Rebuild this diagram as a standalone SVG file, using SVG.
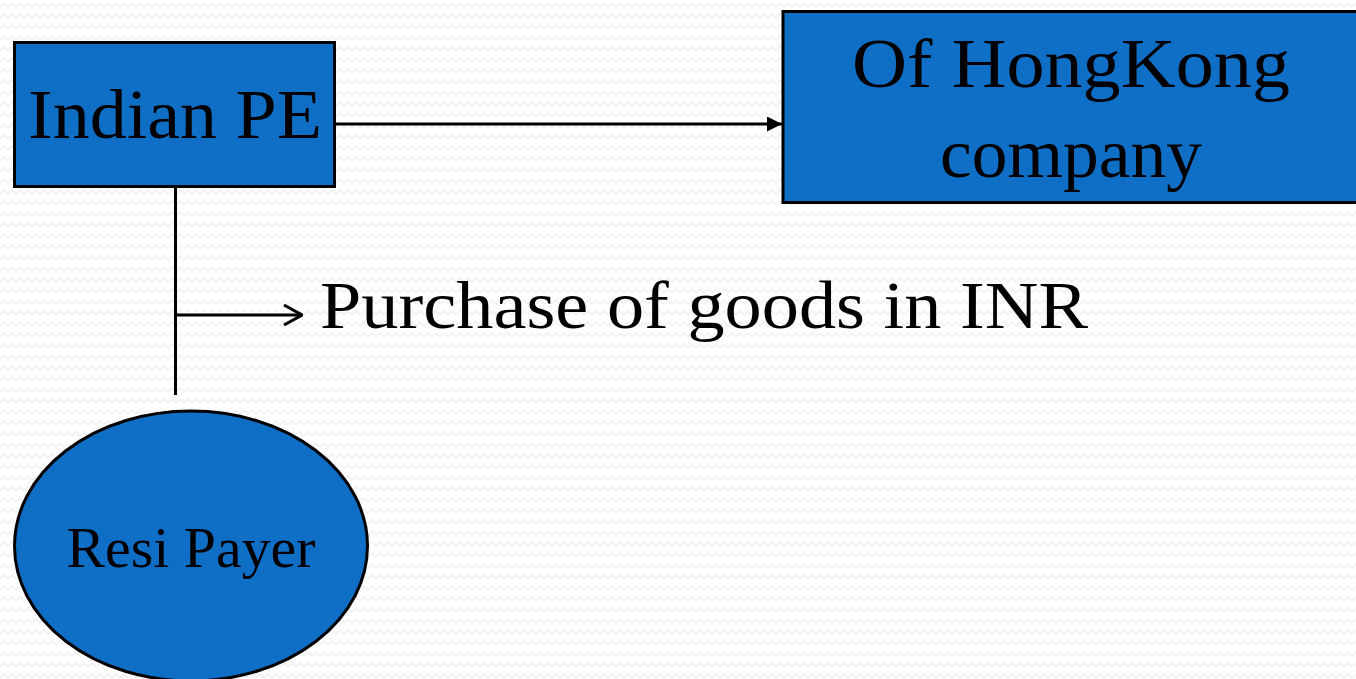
<svg xmlns="http://www.w3.org/2000/svg" width="1356" height="679" viewBox="0 0 1356 679">
  <style>
    .box { fill: #0f6fc6; stroke: #000; stroke-width: 3; }
    .lbl { font-family: "Liberation Serif", "Times New Roman", serif; fill: #000; text-anchor: middle; }
    .wire { fill: none; stroke: #000; stroke-width: 3; }
  </style>
  <defs>
    <!-- faint zigzag paper texture -->
    <pattern id="zigzag" width="8" height="11" patternUnits="userSpaceOnUse">
      <rect width="8" height="11" fill="#fefefe"/>
      <polyline points="0,7 4,3 8,7" fill="none" stroke="#f0f0f0" stroke-width="1.5"/>
    </pattern>
    <marker id="solidHead" viewBox="0 0 10 10" refX="10" refY="5" markerWidth="17" markerHeight="15" markerUnits="userSpaceOnUse" orient="auto">
      <path d="M0,0 L10,5 L0,10 Z" fill="#000"/>
    </marker>
    <marker id="openHead" viewBox="0 0 20 22" refX="19" refY="11" markerWidth="20" markerHeight="22" markerUnits="userSpaceOnUse" orient="auto">
      <path d="M1,1 L19,11 L1,21" fill="none" stroke="#000" stroke-width="3"/>
    </marker>
  </defs>

  <rect width="1356" height="679" fill="url(#zigzag)"/>

  <g id="connectors">
    <line class="wire" x1="335" y1="124" x2="782" y2="124" marker-end="url(#solidHead)"/>
    <line class="wire" x1="175.5" y1="187" x2="175.5" y2="395"/>
    <line class="wire" x1="175.5" y1="315" x2="302" y2="315" marker-end="url(#openHead)"/>
  </g>

  <g id="node-indian-pe">
    <rect class="box" x="14.5" y="42.5" width="320" height="144"/>
    <text class="lbl" x="175" y="138" font-size="70" textLength="294" lengthAdjust="spacingAndGlyphs">Indian PE</text>
  </g>

  <g id="node-hongkong">
    <rect class="box" x="783" y="11.5" width="580" height="191"/>
    <text class="lbl" x="1071" y="87" font-size="70" textLength="438" lengthAdjust="spacingAndGlyphs">Of HongKong</text>
    <text class="lbl" x="1071" y="177" font-size="70" textLength="262" lengthAdjust="spacingAndGlyphs">company</text>
  </g>

  <g id="label-purchase">
    <text class="lbl" x="704" y="328" font-size="68" textLength="768" lengthAdjust="spacingAndGlyphs">Purchase of  goods in INR</text>
  </g>

  <g id="node-resi-payer">
    <ellipse class="box" stroke-width="2.5" cx="191" cy="546" rx="176.5" ry="135"/>
    <text class="lbl" x="191" y="567" font-size="58" textLength="249" lengthAdjust="spacingAndGlyphs">Resi Payer</text>
  </g>
</svg>
